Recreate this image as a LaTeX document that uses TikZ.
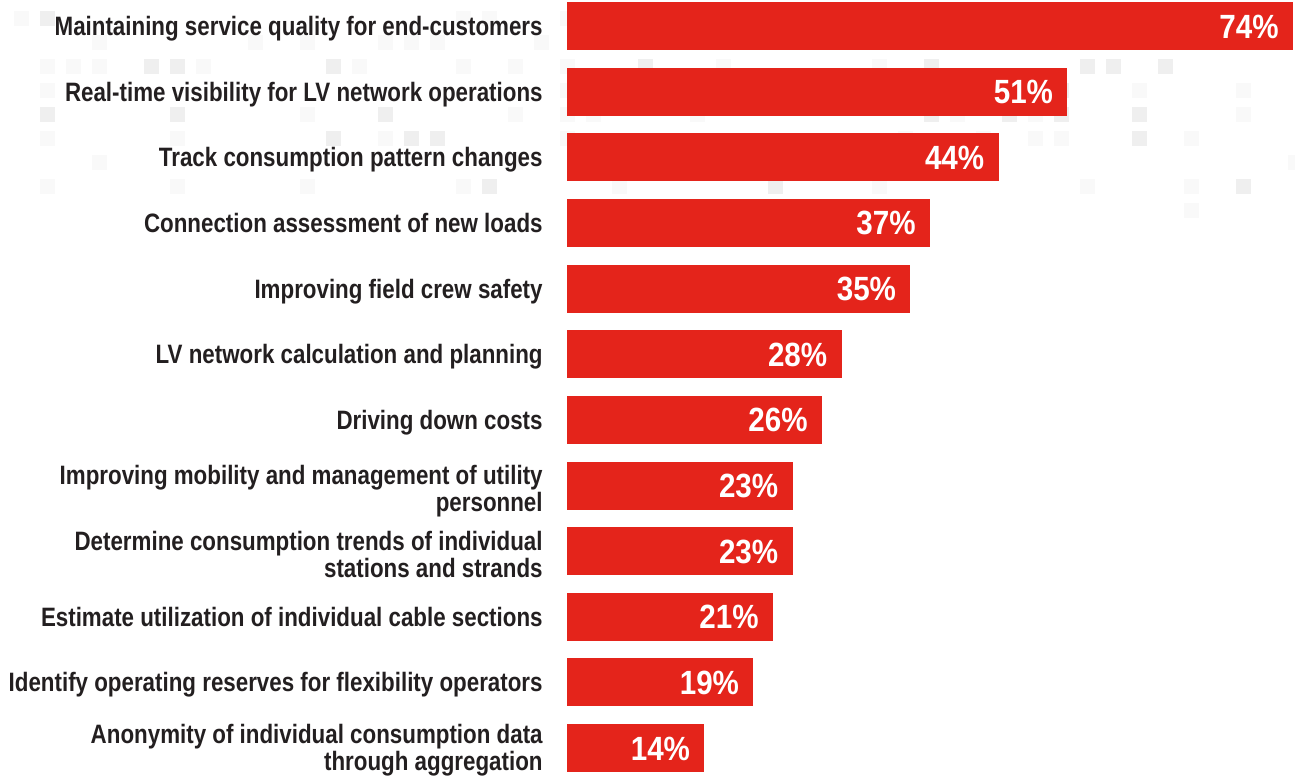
\documentclass[tikz,border=0pt]{standalone}
\usepackage{fontspec}
\setmainfont{Liberation Sans}[FakeStretch=0.84]
\newfontfamily\pctfont{Liberation Sans}[FakeStretch=0.88]
\usetikzlibrary{positioning}
\definecolor{barred}{HTML}{E4241B}
\definecolor{labgray}{HTML}{231F20}
\definecolor{sqdark}{HTML}{EFEFEF}
\definecolor{sqlight}{HTML}{F9F9F9}
\tikzset{
	bar/.style={fill=barred, anchor=west, minimum height=24pt, inner sep=0pt, outer sep=0pt},
	lab/.style={anchor=base east, align=right, inner sep=0pt, text=labgray, font=\fontsize{13.3}{13.5}\selectfont\bfseries},
	pct/.style={anchor=base east, inner sep=0pt, text=white, font=\pctfont\bfseries\fontsize{16.8}{18}\selectfont}
}
\begin{document}
\begin{tikzpicture}[x=0.5pt, y=-0.5pt]
	\useasboundingbox (0,0) rectangle (1295,776);
%	faint squares behind the top rows
	\foreach \c/\r in {-1/0, 16/0, 17/0, 20/0, 2/1, 8/1, 10/1, 13/1, 14/1, 15/1, 19/1, 0/2, 1/2, 2/2, 6/2, 12/2, 16/2, 18/2, 20/2, 26/2, 32/2, 0/3, 20/3, 42/3, 46/3, 10/4, 18/4, 20/4, 21/4, 25/4, 35/4, 38/4, 46/4, 0/5, 5/5, 13/5, 20/5, 33/5, 36/5, 38/5, 39/5, 44/5, 2/6, 18/6, 48/6, 0/7, 5/7, 10/7, 16/7, 22/7, 32/7, 40/7, 44/7, 44/8}
		\fill[sqlight] ({40+26*\c},{11+24*\r}) rectangle ++(15,15);
	\foreach \c/\r in {0/0, 4/2, 5/2, 11/2, 23/2, 34/2, 40/2, 41/2, 43/2, 39/3, 0/4, 5/4, 13/4, 34/4, 37/4, 39/4, 42/4, 11/5, 14/5, 15/5, 42/5, 17/7, 28/7, 46/7}
		\fill[sqdark] ({40+26*\c},{11+24*\r}) rectangle ++(15,15);
%	bars
	\node[bar, minimum width=363pt] (b1) at (567,26) {};
	\node[bar, minimum width=250.2pt] (b2) at (567,91.6) {};
	\node[bar, minimum width=215.8pt] (b3) at (567,157.3) {};
	\node[bar, minimum width=181.5pt] (b4) at (567,222.9) {};
	\node[bar, minimum width=171.7pt] (b5) at (567,288.6) {};
	\node[bar, minimum width=137.3pt] (b6) at (567,354.2) {};
	\node[bar, minimum width=127.5pt] (b7) at (567,419.8) {};
	\node[bar, minimum width=112.8pt] (b8) at (567,485.5) {};
	\node[bar, minimum width=112.8pt] (b9) at (567,551.1) {};
	\node[bar, minimum width=103pt] (b10) at (567,616.8) {};
	\node[bar, minimum width=93.2pt] (b11) at (567,682.4) {};
	\node[bar, minimum width=68.7pt] (b12) at (567,748) {};
%	values
	\node[pct] (p1) at ([xshift=-7pt, yshift=-6pt]b1.east) {74\%};
	\node[pct] (p2) at ([xshift=-7pt, yshift=-6pt]b2.east) {51\%};
	\node[pct] (p3) at ([xshift=-7pt, yshift=-6pt]b3.east) {44\%};
	\node[pct] (p4) at ([xshift=-7pt, yshift=-6pt]b4.east) {37\%};
	\node[pct] (p5) at ([xshift=-7pt, yshift=-6pt]b5.east) {35\%};
	\node[pct] (p6) at ([xshift=-7pt, yshift=-6pt]b6.east) {28\%};
	\node[pct] (p7) at ([xshift=-7pt, yshift=-6pt]b7.east) {26\%};
	\node[pct] (p8) at ([xshift=-7pt, yshift=-6pt]b8.east) {23\%};
	\node[pct] (p9) at ([xshift=-7pt, yshift=-6pt]b9.east) {23\%};
	\node[pct] (p10) at ([xshift=-7pt, yshift=-6pt]b10.east) {21\%};
	\node[pct] (p11) at ([xshift=-7pt, yshift=-6pt]b11.east) {19\%};
	\node[pct] (p12) at ([xshift=-7pt, yshift=-6pt]b12.east) {14\%};
%	labels
	\node[lab] (l1) at (543,35.5) {Maintaining service quality for end-customers};
	\node[lab] (l2) at (543,101.1) {Real-time visibility for LV network operations};
	\node[lab] (l3) at (543,166.8) {Track consumption pattern changes};
	\node[lab] (l4) at (543,232.4) {Connection assessment of new loads};
	\node[lab] (l5) at (543,298.1) {Improving field crew safety};
	\node[lab] (l6) at (543,363.7) {LV network calculation and planning};
	\node[lab] (l7) at (543,429.3) {Driving down costs};
	\node[lab] (l8) at (543,511.5) {Improving mobility and management of utility\\personnel};
	\node[lab] (l9) at (543,577) {Determine consumption trends of individual\\stations and strands};
	\node[lab] (l10) at (543,626.3) {Estimate utilization of individual cable sections};
	\node[lab] (l11) at (543,691.9) {Identify operating reserves for flexibility operators};
	\node[lab] (l12) at (543,770) {Anonymity of individual consumption data\\through aggregation};
\end{tikzpicture}
\end{document}
